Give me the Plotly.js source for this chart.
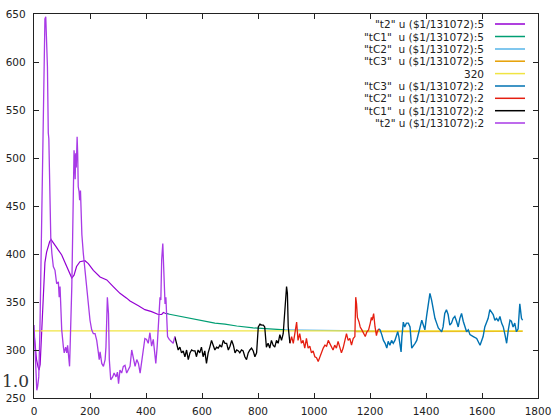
<!DOCTYPE html>
<html>
<head>
<meta charset="utf-8">
<script src="https://cdn.plot.ly/plotly-3.0.1.min.js"></script>
<style>html,body{margin:0;padding:0;background:#fff;}#chart{width:555px;height:416px;}</style>
</head>
<body>
<div id="chart"></div>
<script>
// ---- data ----
const legendLabels = [
  '"t2" u ($1/131072):5',
  '"tC1"  u ($1/131072):5',
  '"tC2"  u ($1/131072):5',
  '"tC3"  u ($1/131072):5',
  '320',
  '"tC3"  u ($1/131072):2',
  '"tC2"  u ($1/131072):2',
  '"tC1"  u ($1/131072):2',
  '"t2" u ($1/131072):2'
];
const seriesColors = ['#9400d3','#009e73','#56b4e9','#e69f00','#f0e442','#0072b2','#e51e10','#000000','#a83ae6'];

// t2 column 5 (running mean)
const t2AvgX = [0,5,9,14,18,22,26,31,35,39,45,51,56,61,69,78,87,99,111,123,135,143,152,164,182,194,212,236,260,283,307,331,343,373,396,420,444,456,462,470,480];
const t2AvgY = [318,300,290,283,279,285,310,349,372,391,402,409,413,415,411,408,404,399,391,382,375,378,387,392,393,390,383,376,373,366,359,354,351,346,342,340,337,337,339,338,338];
// tC1 column 5
const tC1AvgX = [470,503,539,575,611,646,682,724,783,843,896];
const tC1AvgY = [338,336,334,332,330,328,327,325,323,322,321];
// tC2 column 5
const tC2AvgX = [896,960,1021,1100,1170,1236];
const tC2AvgY = [321,320.6,320.3,320.1,320,319.9];
// tC3 column 5
const tC3AvgX = [1150,1300,1450,1600,1745];
const tC3AvgY = [319.4,319.4,319.5,319.5,319.5];
// constant 320
const constX = [0,1745];
const constY = [320,320];

// tC3 column 2
const tC3RawX = [1231,1236,1242,1248,1254,1260,1265,1271,1277,1283,1289,1295,1299,1303,1307,1311,1314,1319,1324,1330,1337,1343,1349,1355,1361,1367,1373,1379,1385,1390,1396,1402,1408,1414,1420,1426,1432,1438,1444,1450,1456,1461,1467,1473,1479,1485,1491,1497,1503,1509,1515,1521,1527,1533,1539,1545,1551,1557,1569,1581,1593,1598,1604,1610,1616,1622,1628,1634,1640,1646,1652,1658,1664,1670,1676,1682,1688,1694,1700,1705,1711,1717,1723,1729,1735,1741,1745];
const tC3RawY = [322,321,316,310,307,302,309,305,310,307,310,316,319,314,305,298,314,329,324,328,328,324,302,304,307,310,319,324,331,326,321,335,345,359,352,341,333,328,323,321,319,324,338,342,337,326,328,333,335,330,324,333,338,330,324,319,321,316,314,312,305,309,314,324,329,333,342,340,337,331,333,330,335,328,324,316,307,321,331,330,324,328,319,322,348,333,331];
// tC2 column 2
const tC2RawX = [914,920,926,932,938,943,949,955,961,967,973,979,985,991,997,1003,1009,1015,1021,1027,1033,1039,1045,1051,1057,1062,1068,1074,1080,1086,1092,1098,1104,1110,1116,1122,1128,1134,1140,1146,1149,1152,1155,1161,1165,1171,1177,1183,1189,1195,1201,1205,1208,1213,1218,1223,1226,1231];
const tC2RawY = [307,314,307,321,329,310,317,307,310,302,312,302,304,297,299,293,292,288,293,297,302,305,304,310,307,304,300,305,302,309,304,297,302,309,317,310,312,305,312,314,355,348,334,329,324,321,317,314,319,321,328,334,331,338,324,315,319,322];
// tC1 column 2
const tC1RawX = [503,509,515,521,527,533,539,545,551,557,563,569,575,580,586,592,598,604,610,616,622,628,634,640,646,652,658,664,670,676,682,688,694,700,706,712,718,724,730,735,741,747,753,759,765,771,777,783,789,795,801,807,813,819,824,830,836,842,848,854,860,866,872,878,884,890,896,902,905,908,914];
const tC1RawY = [314,307,300,303,297,299,293,300,290,297,300,299,299,293,300,297,303,293,299,286,297,303,310,305,300,303,302,305,303,310,307,307,300,304,310,305,297,300,299,297,300,299,293,290,297,300,302,299,293,297,324,327,326,326,324,303,307,302,310,305,303,310,307,316,310,317,342,366,359,324,307];
// t2 column 2
const t2RawX = [0,4,7,10,13,17,21,24,27,30,33,36,39,42,45,48,51,53,55,57,60,64,69,75,81,87,90,93,95,99,105,108,113,117,120,124,127,129,132,135,138,140,143,145,147,149,151,154,156,158,161,163,166,168,171,176,182,188,194,200,206,212,218,224,230,233,236,242,248,254,257,262,266,269,274,281,286,293,298,302,307,313,319,325,331,337,343,349,355,361,367,373,379,385,390,396,402,408,414,420,426,432,435,440,444,450,453,456,460,463,468,471,474,477,483,489,497,503];
const t2RawY = [326,297,270,258,262,272,318,370,422,490,560,612,645,647,625,595,526,520,490,456,416,400,387,383,369,371,355,366,345,321,303,297,303,297,305,290,283,303,330,366,418,450,508,498,478,505,490,522,505,470,465,456,466,440,420,401,383,366,349,331,321,317,317,310,297,290,298,286,283,290,303,355,338,290,269,272,276,272,277,265,279,276,283,284,276,279,283,300,290,283,290,286,276,290,304,312,311,307,318,304,311,297,286,304,328,355,352,394,411,383,348,355,335,314,311,309,307,314];

// ---- chart ----
const traceData = [
  [t2AvgX, t2AvgY], [tC1AvgX, tC1AvgY], [tC2AvgX, tC2AvgY], [tC3AvgX, tC3AvgY],
  [constX, constY], [tC3RawX, tC3RawY], [tC2RawX, tC2RawY], [tC1RawX, tC1RawY], [t2RawX, t2RawY]
];
const widths = [1.2,1.2,1.2,1.5,1.2,1.4,1.3,1.3,1.3];
const traces = traceData.map((d, i) => ({
  type: 'scatter', mode: 'lines', x: d[0], y: d[1], name: legendLabels[i],
  line: {color: seriesColors[i], width: widths[i]}, hoverinfo: 'skip', showlegend: false
}));

const L = 34, R = 538, T = 14, B = 398;
const px2x = p => (p - L) / (R - L);
const py2y = p => 1 - (p - T) / (B - T);
const rowY = [24, 36.5, 49, 61.2, 73.6, 86, 98.3, 110.7, 123];

const annotations = legendLabels.map((t, i) => ({
  xref: 'paper', yref: 'paper', x: px2x(486), y: py2y(rowY[i]),
  xanchor: 'right', yanchor: 'middle', text: t, showarrow: false,
  font: {family: 'DejaVu Sans', size: 10.5, color: '#222'}
}));
annotations.push({
  xref: 'paper', yref: 'paper', x: px2x(0), y: py2y(381), xanchor: 'left', yanchor: 'middle',
  text: '1.0', showarrow: false, font: {family: 'DejaVu Serif', size: 17, color: '#333'}
});
const shapes = legendLabels.map((t, i) => ({
  type: 'line', xref: 'paper', yref: 'paper',
  x0: px2x(495), x1: px2x(525), y0: py2y(rowY[i]), y1: py2y(rowY[i]),
  line: {color: seriesColors[i], width: 1.5}
}));

const axisCommon = {
  showgrid: false, zeroline: false, showline: true, linecolor: '#222', linewidth: 1.2,
  mirror: 'ticks', ticks: 'inside', ticklen: 5, tickwidth: 1, tickcolor: '#222',
  tickfont: {family: 'DejaVu Sans', size: 10.5, color: '#222'}
};

const layout = {
  width: 555, height: 416,
  margin: {l: L, r: 555 - R, t: T, b: 416 - B, pad: 0},
  paper_bgcolor: '#fff', plot_bgcolor: '#fff',
  showlegend: false,
  xaxis: Object.assign({}, axisCommon, {range: [0, 1800], tick0: 0, dtick: 200, ticklabelstandoff: 3}),
  yaxis: Object.assign({}, axisCommon, {range: [250, 650], tick0: 250, dtick: 50, ticklabelstandoff: 5}),
  annotations: annotations,
  shapes: shapes
};

Plotly.newPlot('chart', traces, layout, {staticPlot: true, displayModeBar: false});
</script>
</body>
</html>
